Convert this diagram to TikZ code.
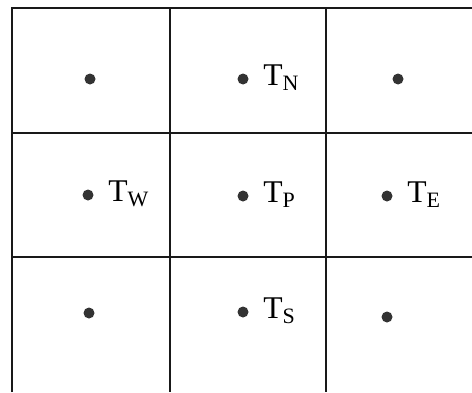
\documentclass[tikz,border=0pt]{standalone}
\usepackage{fontspec}
\setmainfont{Liberation Serif}
\usepackage{tikz}
\usetikzlibrary{positioning}

\begin{document}
\begin{tikzpicture}[x=0.02cm,y=-0.02cm,
    gridline/.style={line width=1.5pt,black!90},
    pt/.style={circle,fill=black!80,inner sep=0pt,minimum size=0.22cm},
    lbl/.style={anchor=base west,inner sep=0pt,font=\fontsize{18}{20}\selectfont},
    sub/.style={}]

\useasboundingbox (0,0) rectangle (472,392);

% Grid lines
\draw[gridline] (12,392) -- (12,8) -- (472,8);
\foreach \x in {170,326} \draw[gridline] (\x,8) -- (\x,392);
\foreach \y in {133,257} \draw[gridline] (12,\y) -- (472,\y);

% Grid points
\node[pt] (nw) at (90,79) {};
\node[pt] (pN) at (243,79) {};
\node[pt] (ne) at (398,79) {};
\node[pt] (pW) at (88,195) {};
\node[pt] (pP) at (243,196) {};
\node[pt] (pE) at (387,196) {};
\node[pt] (sw) at (89,313) {};
\node[pt] (pS) at (243,312) {};
\node[pt] (se) at (387,317) {};

% Labels
\node[lbl] (tN) at ([shift={(20,6)}]pN.center) {T\raisebox{-3pt}{\fontsize{12.5}{14}\selectfont N}};
\node[lbl] (tW) at ([shift={(20,6)}]pW.center) {T\raisebox{-3pt}{\fontsize{12.5}{14}\selectfont W}};
\node[lbl] (tP) at ([shift={(20,6)}]pP.center) {T\raisebox{-3pt}{\fontsize{12.5}{14}\selectfont P}};
\node[lbl] (tE) at ([shift={(20,6)}]pE.center) {T\raisebox{-3pt}{\fontsize{12.5}{14}\selectfont E}};
\node[lbl] (tS) at ([shift={(20,6)}]pS.center) {T\raisebox{-3pt}{\fontsize{12.5}{14}\selectfont S}};

\end{tikzpicture}
\end{document}
